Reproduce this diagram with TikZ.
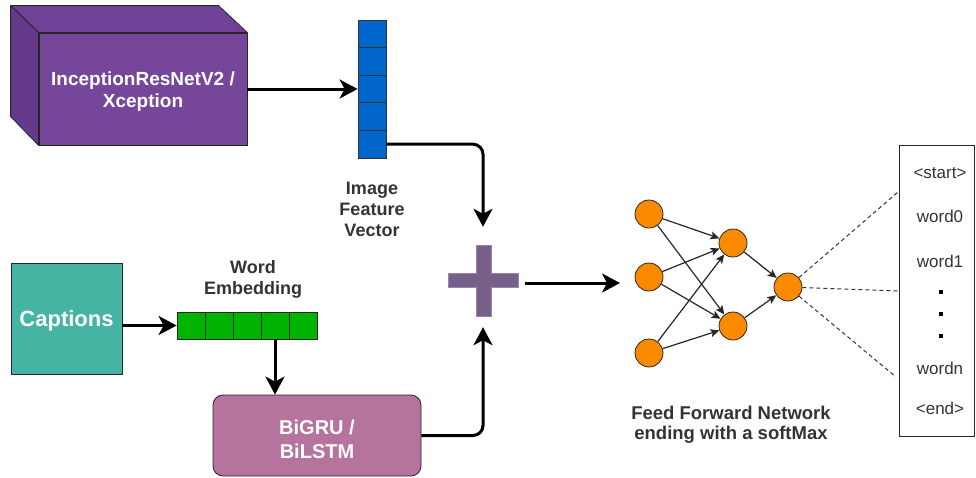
\documentclass[tikz,border=0pt]{standalone}
\usepackage{fontspec}
\setmainfont{Liberation Sans}
\usetikzlibrary{arrows.meta,calc}
\definecolor{cubefront}{HTML}{76469B}
\definecolor{cubetop}{HTML}{6F4197}
\definecolor{cubeleft}{HTML}{653A8C}
\definecolor{vecblue}{HTML}{0066CC}
\definecolor{embgreen}{HTML}{00B300}
\definecolor{capteal}{HTML}{45B4A3}
\definecolor{rnnpink}{HTML}{B5739D}
\definecolor{plusfill}{HTML}{76608A}
\definecolor{plusedge}{HTML}{9A86AE}
\definecolor{neuron}{HTML}{FA8A00}
\definecolor{labelgray}{HTML}{333333}
\begin{document}
\begin{tikzpicture}[x=1pt,y=-1pt,
  boxtext/.style={text=white,font=\fontsize{19}{22}\selectfont\bfseries,align=center},
  labeltext/.style={text=labelgray,font=\fontsize{18}{21}\selectfont\bfseries,align=center},
  veccell/.style={draw=black!80,fill=vecblue,line width=0.8pt,minimum width=28pt,minimum height=27.6pt,inner sep=0pt},
  embcell/.style={draw=black!85,fill=embgreen,line width=0.8pt,minimum width=28pt,minimum height=27pt,inner sep=0pt},
  bigarrow/.style={line width=3pt,-{Stealth[length=18pt,width=19pt,inset=5pt]}},
  nnarrow/.style={line width=1.2pt,draw=black!85,-{Stealth[length=9pt,width=8pt,inset=2pt]}},
  neuronnode/.style={circle,draw=black!85,fill=neuron,line width=0.8pt,minimum size=28pt,inner sep=0pt},
  dashline/.style={draw=labelgray,line width=1pt,dash pattern=on 4pt off 3pt},
  vocabtext/.style={text=labelgray,font=\fontsize{17}{20}\selectfont},
  vocabdot/.style={fill=black,minimum size=4.5pt,inner sep=0pt}
]
\useasboundingbox (0,0) rectangle (976,477);

% cube
\node[draw=black!85,fill=cubefront,line width=0.8pt,minimum width=208pt,minimum height=112pt,inner sep=0pt] (cube) at (143,89) {};
\filldraw[fill=cubetop,draw=black!85,line width=0.8pt,line join=round] (cube.north west) -- ++(-28,-27) -- ++(208,0) -- (cube.north east) -- cycle;
\filldraw[fill=cubeleft,draw=black!85,line width=0.8pt,line join=round] (cube.north west) -- ++(-28,-27) -- ++(0,111) -- (cube.south west) -- cycle;
\node[boxtext] (cubetext) at (143,92) {InceptionResNetV2 /\\Xception};

% image feature vector
\foreach \k in {1,...,5}
  \node[veccell] (vec\k) at (372,{20+27.6*(\k-0.5)}) {};
\node[labeltext] (veclabel) at (372,209) {Image\\Feature\\Vector};

% captions
\node[draw=black!85,fill=capteal,line width=0.8pt,minimum width=111pt,minimum height=111pt,inner sep=0pt] (cap) at (66.5,318.5) {};
\node[text=white,font=\fontsize{22}{26}\selectfont\bfseries] (captext) at (66.5,321) {Captions};

% word embedding
\foreach \k in {1,...,5}
  \node[embcell] (emb\k) at ({177+28*(\k-0.5)},325.5) {};
\node[labeltext] (emblabel) at (253,279) {Word\\Embedding};

% BiGRU
\node[draw=black!85,fill=rnnpink,line width=0.8pt,rounded corners=10pt,minimum width=208pt,minimum height=81pt,inner sep=0pt] (rnn) at (317,435.5) {};
\node[text=white,font=\fontsize{20}{24}\selectfont\bfseries,align=center] (rnntext) at (317,439) {BiGRU /\\BiLSTM};

% plus
\node[minimum width=70pt,minimum height=71pt,inner sep=0pt] (plus) at (483,280.5) {};
\filldraw[fill=plusfill,draw=plusedge,line width=0.8pt]
  (476,245) -- (491,245) -- (491,273) -- (518,273) -- (518,287) -- (491,287) -- (491,316)
  -- (476,316) -- (476,287) -- (448,287) -- (448,273) -- (476,273) -- cycle;

% network
\node[neuronnode] (i1) at (649,214) {};
\node[neuronnode] (i2) at (649,277) {};
\node[neuronnode] (i3) at (649,353) {};
\node[neuronnode] (h1) at (733,243) {};
\node[neuronnode] (h2) at (733,326) {};
\node[neuronnode] (o) at (788,287) {};
\foreach \a in {i1,i2,i3}
  \foreach \b in {h1,h2}
    \draw[nnarrow] (\a) -- (\b);
\draw[nnarrow] (h1) -- (o);
\draw[nnarrow] (h2) -- (o);
\node[labeltext,font=\fontsize{18.5}{20}\selectfont\bfseries] (netlabel) at (731,424.5) {Feed Forward Network\\ending with a softMax};

% vocabulary box
\node[draw=black!85,line width=1pt,minimum width=75pt,minimum height=291pt,inner sep=0pt] (vocab) at (936.5,290.5) {};
\node[vocabtext] (wstart) at (940,173) {<start>};
\node[vocabtext] (w0) at (940,216) {word0};
\node[vocabtext] (w1) at (940,261) {word1};
\node[vocabdot] (dot1) at (941,292) {};
\node[vocabdot] (dot2) at (941,314) {};
\node[vocabdot] (dot3) at (941,336) {};
\node[vocabtext] (wn) at (940,368) {wordn};
\node[vocabtext] (wend) at (940,408) {<end>};
\coordinate (d1) at (898,192);
\coordinate (d2) at (899,291);
\coordinate (d3) at (896,377);
\draw[dashline] (o) -- (d1);
\draw[dashline] (o) -- (d2);
\draw[dashline] (o) -- (d3);

% connectors
\coordinate (netin) at (620,283);
\draw[bigarrow] (cube.east) -- (vec3.west);
\draw[bigarrow,rounded corners=10pt,shorten >=18pt] (vec5.east) -| (plus.north);
\draw[bigarrow] (cap.east |- emb1.west) -- (emb1.west);
\draw[bigarrow] (emb4.south) -- (emb4.south |- rnn.north);
\draw[bigarrow,rounded corners=10pt,shorten >=11pt] (rnn.east) -| (plus.south);
\draw[bigarrow,shorten <=7pt] (plus.east |- netin) -- (netin);
\end{tikzpicture}
\end{document}
